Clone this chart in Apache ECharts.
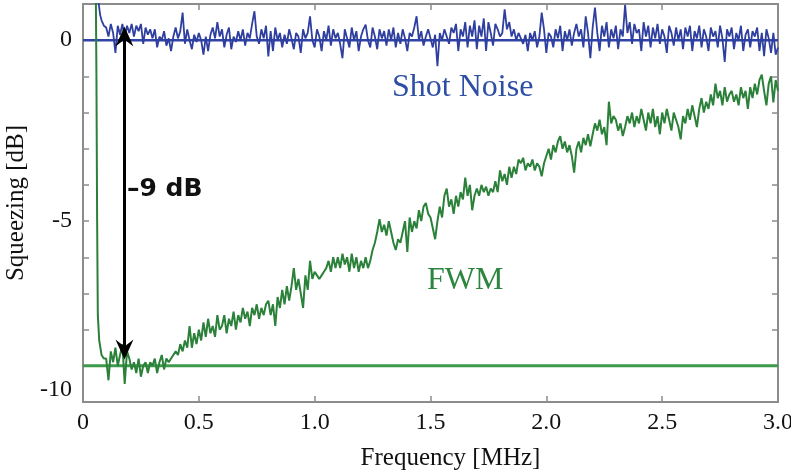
<!DOCTYPE html>
<html>
<head>
<meta charset="utf-8">
<script src="https://cdn.jsdelivr.net/npm/echarts@6/dist/echarts.min.js"></script>
<style>
  html, body { margin: 0; padding: 0; background: #ffffff; }
  #chart { width: 791px; height: 473px; }
</style>
</head>
<body>
<div id="chart"></div>
<script>
// Noise spectra sampled every 10 kHz from 0.10 MHz to 3.00 MHz
const freqStart = 0.10;
const freqStep = 0.01;

// Shot-noise reference trace: roll-off from the top near DC, then the trace itself
const shotNoiseLeadFreq = [0.062, 0.068, 0.074, 0.080, 0.090];
const shotNoiseLead = [1.6, 1.0, 0.7, 0.55, 0.4];
const shotNoise = [
  0.35, 0.1, 0.45, 0.2, -0.35, 0.4, 0.15, 0.45, 0.05, 0.4,
  0.2, 0.45, 0.1, 0.4, 0.25, 0.45, -0.1, 0.35, 0.15, 0.3,
  0.05, 0.3, -0.2, 0.1, 0.0, 0.25, -0.15, 0.05, -0.3, 0.1,
  0.35, 0.05, 0.25, 0.76, -0.1, 0.3, 0.0, -0.25, 0.15, -0.05,
  0.2, 0.0, -0.4, 0.1, -0.3, 0.15, 0.35, 0.05, 0.5, 0.1,
  0.3, -0.2, 0.15, 0.35, -0.25, 0.1, -0.05, 0.25, 0.0, 0.3,
  -0.15, 0.2, 0.05, 0.45, 0.8, 0.1, -0.1, 0.3, 0.05, 0.4,
  -0.45, 0.25, -0.3, 0.35, 0.0, 0.2, -0.2, 0.15, -0.1, 0.3,
  0.05, -0.25, 0.2, 0.1, -0.35, 0.3, 0.05, 0.2, 0.66, 0.0,
  -0.2, 0.3, 0.1, -0.3, 0.25, 0.0, 0.4, -0.15, 0.3, 0.05,
  0.2, -0.1, -0.5, 0.3, 0.05, -0.2, 0.35, 0.0, 0.25, -0.3,
  0.1, 0.3, 0.43, 0.0, -0.2, 0.35, 0.1, -0.25, 0.3, 0.05,
  0.25, -0.15, 0.3, 0.0, 0.35, -0.2, 0.2, -0.1, 0.3, 0.05,
  -0.3, 0.2, 0.1, 0.35, 0.66, 0.0, 0.25, -0.15, 0.1, 0.3,
  0.05, -0.2, 0.15, -0.72, 0.2, 0.0, 0.3, 0.1, -0.1, 0.35,
  0.2, 0.45, -0.3, 0.3, 0.1, 0.5, -0.2, 0.4, 0.1, 0.55,
  -0.25, 0.4, 0.1, 0.6, -0.3, 0.5, 0.2, -0.15, 0.45, 0.3,
  0.1, 0.2, 0.85, 0.3, 0.5, 0.1, 0.3, 0.0, 0.2, 0.05,
  -0.1, 0.15, -0.3, 0.2, 0.0, 0.25, -0.2, 0.1, 0.76, 0.3,
  -0.35, 0.2, 0.1, -0.2, 0.3, 0.05, 0.4, -0.3, 0.25, 0.0,
  0.3, -0.15, 0.2, 0.45, 0.1, 0.3, -0.2, 0.66, 0.2, -0.5,
  0.35, 0.9, 0.2, -0.3, 0.4, 0.1, 0.5, -0.2, 0.3, 0.05,
  0.4, -0.25, 0.3, 0.1, 0.98, 0.2, 0.5, -0.1, 0.45, 0.2,
  0.3, -0.3, 0.5, 0.1, 0.4, -0.2, 0.35, 0.05, 0.45, -0.1,
  0.3, 0.1, -0.35, 0.4, 0.2, -0.15, 0.35, 0.0, 0.3, -0.25,
  0.35, 0.1, 0.4, -0.3, 0.25, 0.05, 0.4, -0.2, 0.3, 0.1,
  -0.3, 0.35, 0.1, 0.25, -0.2, 0.4, 0.05, -0.6, 0.3, 0.1,
  0.35, -0.25, 0.2, 0.0, 0.4, -0.3, 0.15, 0.3, -0.2, 0.25,
  0.1, 0.35, -0.3, 0.2, -0.44, 0.3, 0.05, -0.35, 0.2, -0.4,
  -0.2
];

// Four-wave-mixing squeezed trace: steep fall near DC, then the trace itself
const fwmLeadFreq = [0.055, 0.058, 0.061, 0.064, 0.070, 0.080, 0.090];
const fwmLead = [1.6, -1.0, -5.0, -7.6, -8.3, -8.7, -8.8];
const fwm = [
  -8.8, -9.4, -8.6, -8.9, -8.5, -9.0, -8.7, -8.4, -9.5, -8.6,
  -8.8, -9.1, -8.9, -9.2, -8.8, -9.3, -9.0, -8.9, -9.2, -8.9,
  -9.0, -8.8, -9.2, -8.9, -8.7, -9.1, -8.8, -8.9, -8.8, -8.7,
  -8.6, -8.7, -8.4, -8.6, -8.3, -8.5, -7.9, -8.5, -8.1, -8.4,
  -8.0, -8.3, -7.8, -8.2, -7.7, -8.1, -7.9, -8.2, -7.6, -8.0,
  -7.9, -7.6, -8.1, -7.7, -7.9, -7.5, -8.0, -7.6, -7.8, -7.4,
  -7.7, -7.5, -7.9, -7.4, -7.6, -7.3, -7.7, -7.4, -7.6, -7.3,
  -7.2, -7.6, -7.3, -7.9, -7.1, -7.4, -6.9, -7.3, -6.8, -7.2,
  -6.8, -6.3, -6.9, -6.6, -7.0, -7.4, -6.5, -6.9, -6.1, -6.6,
  -6.4, -6.5, -6.6, -6.5, -6.4, -6.3, -6.1, -6.4, -6.0, -6.3,
  -6.0, -6.3, -5.9, -6.2, -6.0, -6.4, -5.9, -6.3, -6.0, -6.4,
  -6.1, -6.3, -6.0, -6.3, -6.1, -5.8, -5.6, -5.3, -4.95, -5.3,
  -5.1, -5.4, -5.0, -5.3, -5.6, -5.8, -5.5, -5.6, -5.3, -5.0,
  -5.85, -4.9, -5.3, -5.0, -5.2, -4.7, -5.0, -4.6, -4.5, -4.8,
  -4.9, -5.2, -5.5, -5.0, -4.6, -4.9, -4.3, -4.1, -4.6, -4.4,
  -4.8, -4.3, -4.6, -4.2, -4.4, -3.8, -4.3, -4.0, -4.7, -4.3,
  -4.1, -4.3, -4.0, -4.2, -4.05, -4.3, -4.1, -4.2, -3.9, -4.2,
  -3.6, -3.9, -3.7, -4.0, -3.5, -3.8, -3.5, -3.7, -3.3, -3.4,
  -3.25, -3.6, -3.4, -3.5, -3.3, -3.6, -3.4, -3.5, -3.76, -3.4,
  -3.2, -3.0, -3.3, -2.9, -3.1, -2.8, -2.65, -3.0, -2.8, -3.1,
  -2.9, -3.2, -3.66, -3.0, -2.8, -3.1, -2.7, -2.9, -2.6, -2.93,
  -2.6, -2.3, -2.5, -2.2, -2.6, -2.4, -2.9, -1.7, -2.3, -2.1,
  -2.2, -2.5, -2.3, -2.65, -2.4, -2.1, -2.3, -2.0, -2.4, -2.1,
  -2.3, -1.9, -2.2, -2.5, -2.0, -2.3, -1.9, -2.4, -2.1, -2.6,
  -2.0, -2.3, -1.9, -2.2, -2.5, -2.0, -2.2, -2.4, -2.74, -2.1,
  -2.3, -1.9, -2.2, -1.8, -2.1, -2.4, -1.9, -1.6, -2.0, -1.7,
  -1.9, -1.5, -1.8, -1.2, -1.6, -1.4, -1.8, -1.3, -1.7, -1.5,
  -1.4, -1.7, -1.5, -1.8, -1.3, -1.6, -1.4, -1.9, -1.3, -1.6,
  -1.2, -1.5, -1.1, -0.95, -1.4, -1.8, -1.2, -1.0, -1.72, -1.1,
  -1.4
];

// Horizontal reference levels
const shotNoiseLevel = 0;
const fwmFloor = -9;

// Double arrow marking the squeezing depth
const arrowFreq = 0.179;
const arrowTop = 0.1;
const arrowBottom = -8.55;

const freqMin = 0, freqMax = 3, freqInterval = 0.5;
const dbMin = -10, dbMax = 1, dbInterval = 1;
const dbLabelled = [0, -5, -10];

const blue = '#2e3f9f';
const green = '#2b8139';
const frameColor = '#8c8c8c';

function toPairs(leadFreq, lead, values) {
  const pts = leadFreq.map((f, i) => [f, lead[i]]);
  values.forEach((v, i) => pts.push([+(freqStart + i * freqStep).toFixed(3), v]));
  return pts;
}

const chart = echarts.init(document.getElementById('chart'), null, { renderer: 'canvas' });

const serif = '"Liberation Serif", "DejaVu Serif", serif';
const arrowHead = 'path://M0,0 L9,20 L0,13 L-9,20 Z';

const frameLine = { show: true, onZero: false, lineStyle: { color: frameColor, width: 2 } };
const frameTick = { show: true, inside: true, length: 6, lineStyle: { color: frameColor, width: 1.5 } };

const option = {
  backgroundColor: '#ffffff',
  animation: false,
  grid: { left: 83, right: 13, top: 4, bottom: 71, containLabel: false, outerBoundsMode: 'none' },
  xAxis: [
    {
      type: 'value', min: freqMin, max: freqMax, interval: freqInterval,
      position: 'bottom',
      name: 'Frequency [MHz]', nameLocation: 'middle', nameGap: 44,
      nameTextStyle: { fontFamily: serif, fontSize: 25, color: '#111', padding: [0, 0, 0, 40] },
      axisLine: frameLine,
      axisTick: frameTick,
      axisLabel: {
        fontFamily: serif, fontSize: 24, color: '#111', margin: 9,
        formatter: v => (v === 0 ? '0' : v.toFixed(1))
      },
      splitLine: { show: false }
    },
    {
      type: 'value', min: freqMin, max: freqMax, interval: freqInterval,
      position: 'top',
      axisLine: frameLine,
      axisTick: frameTick,
      axisLabel: { show: false },
      splitLine: { show: false }
    }
  ],
  yAxis: [
    {
      type: 'value', min: dbMin, max: dbMax, interval: dbInterval,
      position: 'left',
      name: 'Squeezing [dB]', nameLocation: 'middle', nameGap: 48, nameRotate: 90,
      nameTextStyle: { fontFamily: serif, fontSize: 25, color: '#111' },
      axisLine: frameLine,
      axisTick: frameTick,
      axisLabel: {
        fontFamily: serif, fontSize: 24, color: '#111', margin: 11,
        verticalAlignMinLabel: 'bottom',
        formatter: v => (dbLabelled.includes(v) ? String(v) : '')
      },
      splitLine: { show: false }
    },
    {
      type: 'value', min: dbMin, max: dbMax, interval: dbInterval,
      position: 'right',
      axisLine: frameLine,
      axisTick: frameTick,
      axisLabel: { show: false },
      splitLine: { show: false }
    }
  ],
  series: [
    {
      name: 'FWM floor', type: 'line', showSymbol: false, silent: true,
      data: [[freqMin, fwmFloor], [freqMax, fwmFloor]],
      lineStyle: { color: '#3c9a4a', width: 3 }, z: 2
    },
    {
      name: 'FWM', type: 'line', showSymbol: false, silent: true, clip: true,
      data: toPairs(fwmLeadFreq, fwmLead, fwm),
      lineStyle: { color: green, width: 2 }, z: 3
    },
    {
      name: 'Shot noise level', type: 'line', showSymbol: false, silent: true,
      data: [[freqMin, shotNoiseLevel], [freqMax, shotNoiseLevel]],
      lineStyle: { color: '#2f44a6', width: 2.5 }, z: 2
    },
    {
      name: 'Shot Noise', type: 'line', showSymbol: false, silent: true, clip: true,
      data: toPairs(shotNoiseLeadFreq, shotNoiseLead, shotNoise),
      lineStyle: { color: blue, width: 1.8 }, z: 3
    },
    {
      name: 'Squeezing depth', type: 'line', data: [], silent: true, z: 5,
      markLine: {
        silent: true,
        symbol: [arrowHead, arrowHead],
        symbolSize: [18, 20],
        label: { show: false },
        lineStyle: { color: '#000000', width: 3, type: 'solid' },
        emphasis: { disabled: true },
        data: [[{ coord: [arrowFreq, arrowTop] }, { coord: [arrowFreq, arrowBottom] }]]
      }
    }
  ],
  graphic: [
    {
      type: 'text', left: 392, top: 72, silent: true,
      style: { text: 'Shot Noise', fill: '#2d4ea3', font: '32px "Liberation Serif", serif' }
    },
    {
      type: 'text', left: 427, top: 265, silent: true,
      style: { text: 'FWM', fill: '#2e8540', font: '32px "Liberation Serif", serif' }
    },
    {
      type: 'text', left: 127, top: 177, silent: true,
      style: { text: '\u20139 dB', fill: '#111111', font: 'bold 25px "DejaVu Sans", sans-serif' }
    }
  ]
};

chart.setOption(option);
</script>
</body>
</html>
